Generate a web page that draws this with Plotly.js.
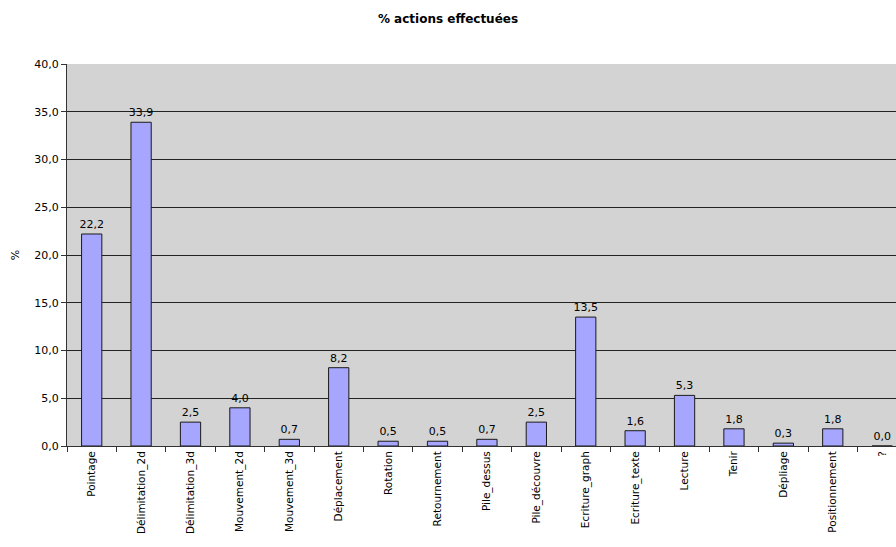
<!DOCTYPE html>
<html><head><meta charset="utf-8">
<script src="https://cdn.plot.ly/plotly-3.0.1.min.js"></script>
<style>html,body{margin:0;padding:0;background:#fff}#c{width:896px;height:547px}</style>
</head><body><div id="c"></div>
<script>
const categories = ["Pointage","Délimitation_2d","Délimitation_3d","Mouvement_2d","Mouvement_3d","Déplacement","Rotation","Retournement","Pile_dessus","Pile_découvre","Ecriture_graph","Ecriture_texte","Lecture","Tenir","Dépliage","Positionnement","?"];
const values = [22.2,33.9,2.5,4.0,0.7,8.2,0.5,0.5,0.7,2.5,13.5,1.6,5.3,1.8,0.3,1.8,0.0];
const yTicks = [0,5,10,15,20,25,30,35,40];

const font = "DejaVu Sans, Verdana, sans-serif";
Plotly.newPlot('c', [{
  type: 'bar',
  x: categories,
  y: values,
  width: 0.41,
  marker: {color: '#a6a6ff', line: {color: '#1a1a1a', width: 1}},
  texttemplate: '%{y:.1f}',
  textposition: 'outside',
  textangle: 0,
  constraintext: 'none',
  textfont: {family: font, size: 11, color: '#000'},
  cliponaxis: false,
  hoverinfo: 'none'
}], {
  width: 896, height: 547,
  separators: ',.',
  margin: {l: 67, r: 0, t: 64, b: 101, pad: 0},
  paper_bgcolor: '#fff',
  plot_bgcolor: '#d3d3d3',
  showlegend: false,
  uniformtext: {mode: false},
  title: {text: '<b>% actions effectuées</b>', x: 0.5, xanchor: 'center', y: 0.965, yanchor: 'middle',
          font: {family: font, size: 12, color: '#000'}},
  xaxis: {
    type: 'category',
    range: [-0.5, 16.28],
    tickangle: -90,
    tickson: 'boundaries',
    ticks: 'outside', ticklen: 5, tickcolor: '#333',
    showline: true, linecolor: '#333', linewidth: 1,
    showgrid: false,
    tickfont: {family: font, size: 10.5, color: '#000'},
    fixedrange: true
  },
  yaxis: {
    range: [0, 40],
    tickvals: yTicks,
    tickformat: '.1f',
    ticks: 'outside', ticklen: 5, tickcolor: '#333',
    showline: true, linecolor: '#333', linewidth: 1,
    showgrid: true, gridcolor: '#222', gridwidth: 1,
    zeroline: false,
    tickfont: {family: font, size: 11, color: '#000'},
    title: {text: '%', standoff: 12, font: {family: font, size: 11, color: '#000'}},
    fixedrange: true
  },
  bargap: 0.59
}, {staticPlot: true});
</script></body></html>
